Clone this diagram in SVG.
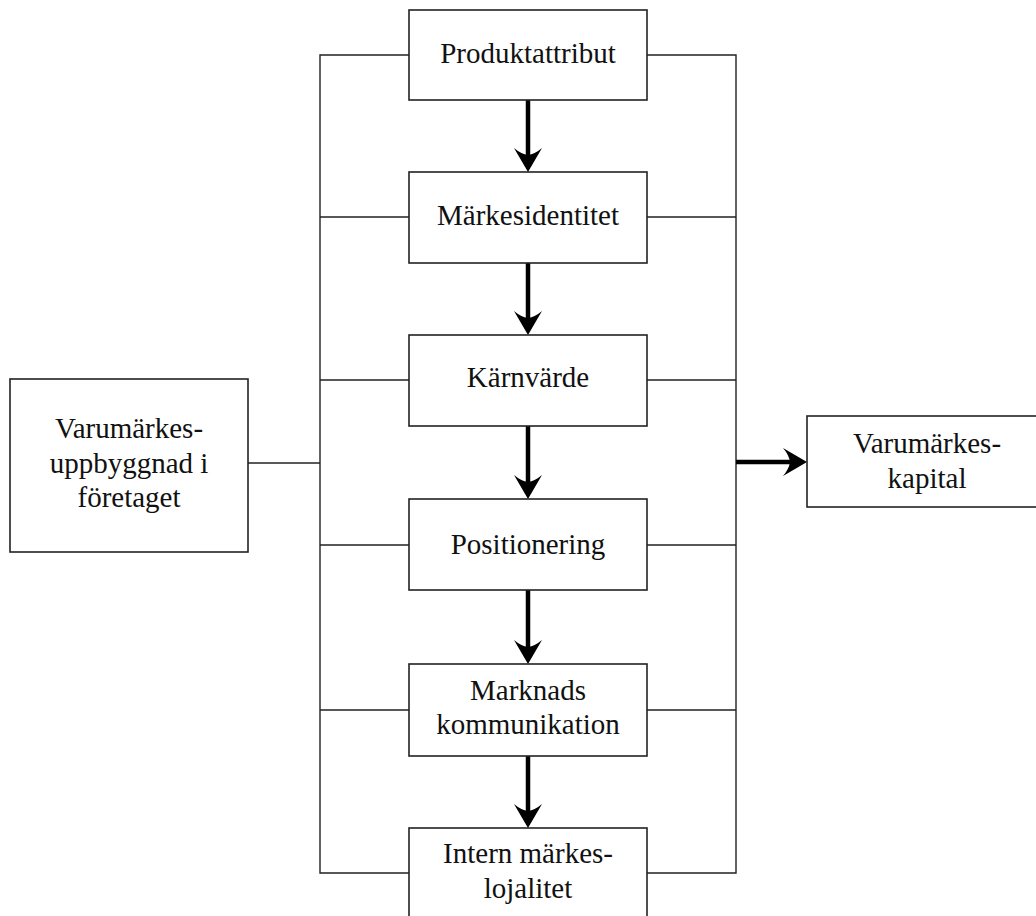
<svg xmlns="http://www.w3.org/2000/svg" width="1036" height="916" viewBox="0 0 1036 916">
<style>
.box{fill:#fff;stroke:#222;stroke-width:1.6}
.ln{fill:none;stroke:#222;stroke-width:1.4}
.ar{fill:none;stroke:#000;stroke-width:4.5}
text{font-family:"Liberation Serif","Times New Roman",serif;font-size:29px;fill:#111;text-anchor:middle}
</style>
<defs>
<marker id="ah" viewBox="0 -15 26 30" markerWidth="26" markerHeight="30" refX="13" refY="0" orient="auto" markerUnits="userSpaceOnUse">
<path d="M24,0 L0,-14 Q6,-7 7,0 Q6,7 0,14 Z" fill="#000"/>
</marker>
</defs>
<rect width="1036" height="916" fill="#fff"/>
<g id="connectors">
<path class="ln" d="M409,55 H320 V873 H409"/>
<path class="ln" d="M320,217 H409 M320,380 H409 M320,545 H409 M320,710 H409"/>
<path class="ln" d="M647,55 H736 V873 H647"/>
<path class="ln" d="M647,217 H736 M647,380 H736 M647,545 H736 M647,710 H736"/>
<path class="ln" d="M248,463 H320"/>
<line class="ar" x1="528" y1="100" x2="528" y2="161" marker-end="url(#ah)"/>
<line class="ar" x1="528" y1="263" x2="528" y2="324" marker-end="url(#ah)"/>
<line class="ar" x1="528" y1="426" x2="528" y2="488" marker-end="url(#ah)"/>
<line class="ar" x1="528" y1="590" x2="528" y2="653" marker-end="url(#ah)"/>
<line class="ar" x1="528" y1="756" x2="528" y2="817" marker-end="url(#ah)"/>
<line class="ar" x1="736" y1="462" x2="796" y2="462" marker-end="url(#ah)"/>
</g>
<g id="produktattribut">
<rect class="box" x="409" y="10" width="238" height="90"/>
<text x="528" y="63">Produktattribut</text>
</g>
<g id="markesidentitet">
<rect class="box" x="409" y="172" width="238" height="91"/>
<text x="528" y="225">Märkesidentitet</text>
</g>
<g id="karnvarde">
<rect class="box" x="409" y="335" width="238" height="91"/>
<text x="528" y="387">Kärnvärde</text>
</g>
<g id="positionering">
<rect class="box" x="409" y="499" width="238" height="91"/>
<text x="528" y="554">Positionering</text>
</g>
<g id="marknadskommunikation">
<rect class="box" x="409" y="664" width="238" height="92"/>
<text x="528" y="700">Marknads</text>
<text x="528" y="734">kommunikation</text>
</g>
<g id="internmarkeslojalitet">
<rect class="box" x="409" y="828" width="238" height="100"/>
<text x="528" y="863">Intern märkes-</text>
<text x="528" y="898">lojalitet</text>
</g>
<g id="varumarkesuppbyggnad">
<rect class="box" x="10" y="379" width="238" height="173"/>
<text x="129" y="438">Varumärkes-</text>
<text x="129" y="473">uppbyggnad i</text>
<text x="129" y="507">företaget</text>
</g>
<g id="varumarkeskapital">
<rect class="box" x="807" y="416" width="240" height="91"/>
<text x="927" y="453">Varumärkes-</text>
<text x="927" y="488">kapital</text>
</g>
</svg>
